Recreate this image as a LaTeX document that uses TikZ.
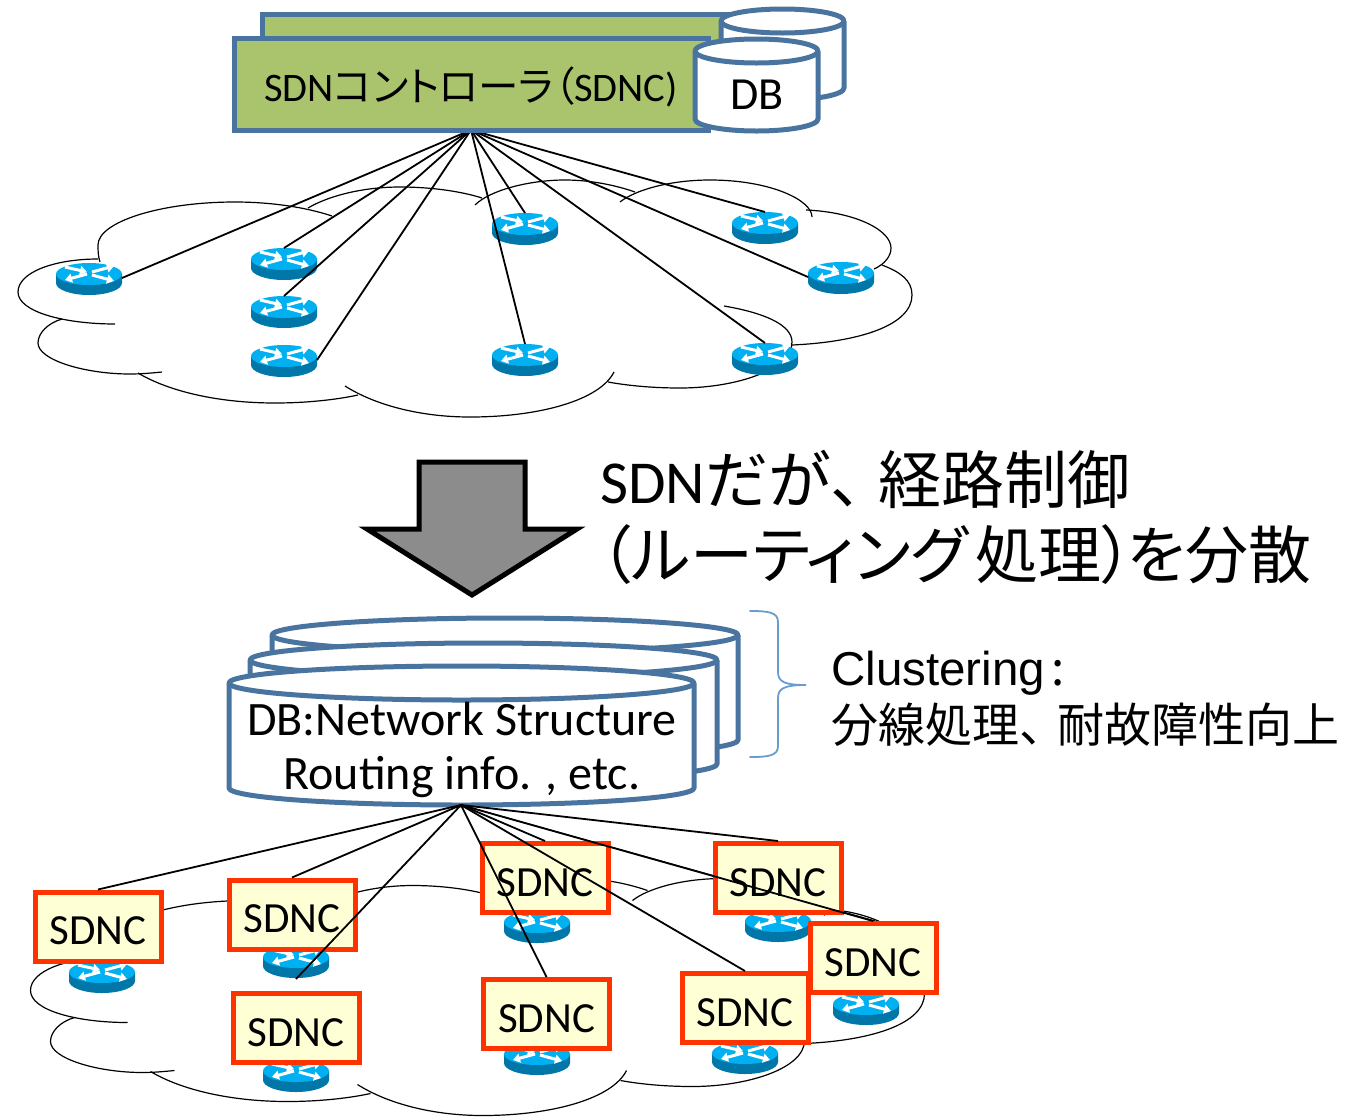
\documentclass[tikz,border=0pt]{standalone}
\usepackage{fontspec}
\usetikzlibrary{arrows.meta,calc,shadows}
\setmainfont{Carlito}
\newfontfamily\cjk[RawFeature=+palt]{Noto Sans CJK JP}
\newfontfamily\cjkfull{Noto Sans CJK JP}
\newfontfamily\helv{Liberation Sans}
\definecolor{dbblue}{HTML}{4A74A0}
\definecolor{ctrlgreen}{HTML}{A9C46C}
\definecolor{rtop}{HTML}{00B0F0}
\definecolor{rbot}{HTML}{0077A8}
\definecolor{sdncred}{HTML}{FF3300}
\definecolor{sdncfill}{HTML}{FFFFD5}
\definecolor{bracecol}{HTML}{6A9BD0}
\tikzset{
  cloudline/.style={draw=black,line width=1.2pt},
  link/.style={draw=black,line width=1.8pt},
  dbline/.style={draw=dbblue,line width=5pt,fill=white,line join=round},
  ctrlbox/.style={draw=dbblue,fill=ctrlgreen,line width=5pt,inner sep=0pt,text=black},
  sdncbox/.style={draw=sdncred,fill=sdncfill,line width=5pt,minimum width=126pt,minimum height=69pt,inner sep=0pt,font=\fontsize{43}{43}\selectfont},
  rarrow/.style={draw=white,line width=3pt,-{Triangle[width=9pt,length=7pt]}},
  label/.style={inner sep=0pt,anchor=base west}
}
\newcommand{\sdnctext}{\raisebox{-18pt}[0pt][0pt]{SDNC}}
\newcommand{\cloudshape}[2]{%
\begin{scope}[shift={(#1,#2)}]
\draw[cloudline] (115,324) .. controls (65,324) and (18,312) .. (18,292) .. controls (18,272) and (55,259) .. (98,259);
\draw[cloudline] (62,319) .. controls (48,323) and (38,333) .. (38,343) .. controls (38,360) and (85,374) .. (130,374) .. controls (141,374) and (152,373) .. (162,372);
\draw[cloudline] (138,373) .. controls (170,392) and (220,403) .. (275,403) .. controls (305,403) and (335,400) .. (358,395);
\draw[cloudline] (345,386) .. controls (375,405) and (420,417) .. (470,417) .. controls (540,417) and (600,400) .. (614,372);
\draw[cloudline] (608,382) .. controls (630,386) and (655,388) .. (680,388) .. controls (735,388) and (792,370) .. (792,342) .. controls (792,325) and (765,313) .. (724,306);
\draw[cloudline] (792,345) .. controls (860,342) and (912,325) .. (912,295) .. controls (912,280) and (900,272) .. (882,265);
\draw[cloudline] (874,269) .. controls (885,264) and (891,256) .. (891,248) .. controls (891,230) and (855,212) .. (806,210);
\draw[cloudline] (812,217) .. controls (812,200) and (770,180) .. (710,180) .. controls (670,180) and (635,190) .. (620,202);
\draw[cloudline] (308,208) .. controls (330,195) and (365,187) .. (400,187) .. controls (430,187) and (460,191) .. (482,198);
\draw[cloudline] (475,205) .. controls (490,190) and (530,180) .. (565,180) .. controls (590,180) and (615,185) .. (635,192);
\draw[cloudline] (100,262) .. controls (98,256) and (98,250) .. (98,245) .. controls (98,222) and (160,202) .. (235,202) .. controls (270,202) and (305,207) .. (332,216);
\end{scope}}
% router: name, centre x, top y
\newcommand{\router}[3]{%
\begin{scope}[shift={(#2,#3)}]
\coordinate (#1) at (0,0);
\fill[rbot] (-33,11) -- (-33,20) arc[start angle=180,end angle=0,x radius=33,y radius=12] -- (33,11) -- cycle;
\fill[rtop] (0,11) ellipse [x radius=33,y radius=11];
\draw[rarrow] (-24,4) -- (-2,9);
\draw[rarrow] (3,9) -- (25,3);
\draw[rarrow] (-2,11) -- (-24,17);
\draw[rarrow] (3,12) -- (25,18);
\end{scope}}
% cylinder: x1,x2,centre y of top,ry,y of bottom ellipse centre
\newcommand{\dbcyl}[5]{%
\pgfmathsetmacro{\dbrx}{(#2-#1)/2}\pgfmathsetmacro{\dbcx}{(#2+#1)/2}
\draw[dbline] (#1,#3) -- (#1,#5) arc[start angle=180,end angle=0,x radius=\dbrx,y radius=#4] -- (#2,#3);
\draw[dbline] (\dbcx,#3) ellipse [x radius=\dbrx,y radius=#4];
}
\begin{document}
\begin{tikzpicture}[x=1pt,y=-1pt]
\useasboundingbox (0,0) rectangle (1351,1117);
% ---- top network
\cloudshape{0}{0}
\router{ra}{89}{263}
\router{rb}{284}{248}
\router{rc}{284}{296}
\router{rd}{284}{345}
\router{re}{525}{213}
\router{rf}{525}{344}
\router{rg}{765}{212}
\router{rh}{841}{262}
\router{ri}{765}{343}
\coordinate (apexTop) at (471,130);
\draw[link] (apexTop) -- ($(ra)+(33,15)$);
\draw[link] (apexTop) -- (rb);
\draw[link] (apexTop) -- (rc);
\draw[link] (apexTop) -- ($(rd)+(33,15)$);
\draw[link] (apexTop) -- (re);
\draw[link] (apexTop) -- (rf);
\draw[link] (apexTop) -- (rg);
\draw[link] (apexTop) -- ($(rh)+(-33,15)$);
\draw[link] (apexTop) -- (ri);
% ---- controller
\node[ctrlbox,minimum width=468pt,minimum height=50pt] (ctrlback) at (496,39) {};
\dbcyl{721}{844}{21}{12}{88}
\node[ctrlbox,minimum width=474pt,minimum height=92pt] (ctrl) at (471,84) {};
\node[inner sep=0pt,anchor=base west,font=\fontsize{40.5}{40.5}\selectfont] (ctrltext) at (264,101) {SDN{\cjk コントローラ（}SDNC)};
\dbcyl{695}{818}{51}{12}{119}
\node[inner sep=0pt,font=\fontsize{46}{46}\selectfont] (dbtop) at (757,95) {DB};
% ---- arrow
\draw[draw=black,fill=black!45,line width=5pt,miter limit=10] (419,462) -- (525,462) -- (525,529) -- (577,529) -- (472,595) -- (367,529) -- (419,529) -- cycle;
\node[label,font=\fontsize{61}{61}\selectfont] (msg1) at (600,503) {SDN{\fontsize{63}{63}\selectfont\cjk だが\cjkfull 、\hspace{-15pt}\cjk 経路制御}};
\node[label,font=\fontsize{63}{63}\selectfont] (msg2) at (600,578) {{\cjk （ルーティング\hspace{8pt}処理）\hspace{-6pt}を分散}};
% ---- lower DB
\dbcyl{272}{738}{635}{17}{740}
\dbcyl{250}{717}{660}{17}{764}
\dbcyl{229}{694}{683}{17}{788}
\node[inner sep=0pt,font=\fontsize{48}{48}\selectfont] (dbl1) at (462,719) {DB:Network Structure};
\node[inner sep=0pt,font=\fontsize{48}{48}\selectfont] (dbl2) at (462,777) {Routing info. , etc.};
\coordinate (apexLow) at (461,805);
% ---- brace
\draw[bracecol,line width=1.8pt,line cap=round] (750,611) .. controls (768,611) and (778,612) .. (778,622) -- (778,672) .. controls (778,682) and (785,685) .. (806,685) .. controls (785,685) and (778,688) .. (778,698) -- (778,746) .. controls (778,756) and (768,757) .. (750,757);
\node[label,font=\helv\fontsize{47.5}{47.5}\selectfont] (clus1) at (831,685.5) {Clustering\hspace{6pt}{\cjk :}};
\node[label,font=\cjkfull\fontsize{47}{47}\selectfont] (clus2) at (831,742) {分線処理、\hspace{-9pt}耐故障性向上};
% ---- lower network
\cloudshape{12.5}{698.5}
\router{sa}{102}{961}
\router{sb}{296}{946}
\router{sc}{296}{1060}
\router{sd}{537}{911}
\router{se}{537}{1043}
\router{sf}{778}{910}
\router{sg}{866}{993}
\router{sh}{745}{1042}
\coordinate (hiddenEnd) at (875,921);
\draw[link,line width=1.2pt] (apexLow) -- (hiddenEnd);
\node[sdncbox] (ba) at (98,926.5) {\sdnctext};
\node[sdncbox] (bb) at (292,914.5) {\sdnctext};
\node[sdncbox] (bc) at (296,1028) {\sdnctext};
\node[sdncbox] (bd) at (545,878) {\sdnctext};
\node[sdncbox] (be) at (546.5,1014) {\sdnctext};
\node[sdncbox] (bf) at (778,878) {\sdnctext};
\node[sdncbox] (bg) at (873,958) {\sdnctext};
\node[sdncbox] (bh) at (745,1008) {\sdnctext};
\coordinate (sbend) at (296,979);
\draw[link] (apexLow) -- (ba.north);
\draw[link] (apexLow) -- (bb.north);
\draw[link] (apexLow) -- (sbend);
\draw[link] (apexLow) -- (bd.north);
\draw[link] (apexLow) -- (be.north);
\draw[link] (apexLow) -- (bf.north);
\draw[link] (apexLow) -- (bg.north);
\draw[link] (apexLow) -- (bh.north);
\end{tikzpicture}
\end{document}
